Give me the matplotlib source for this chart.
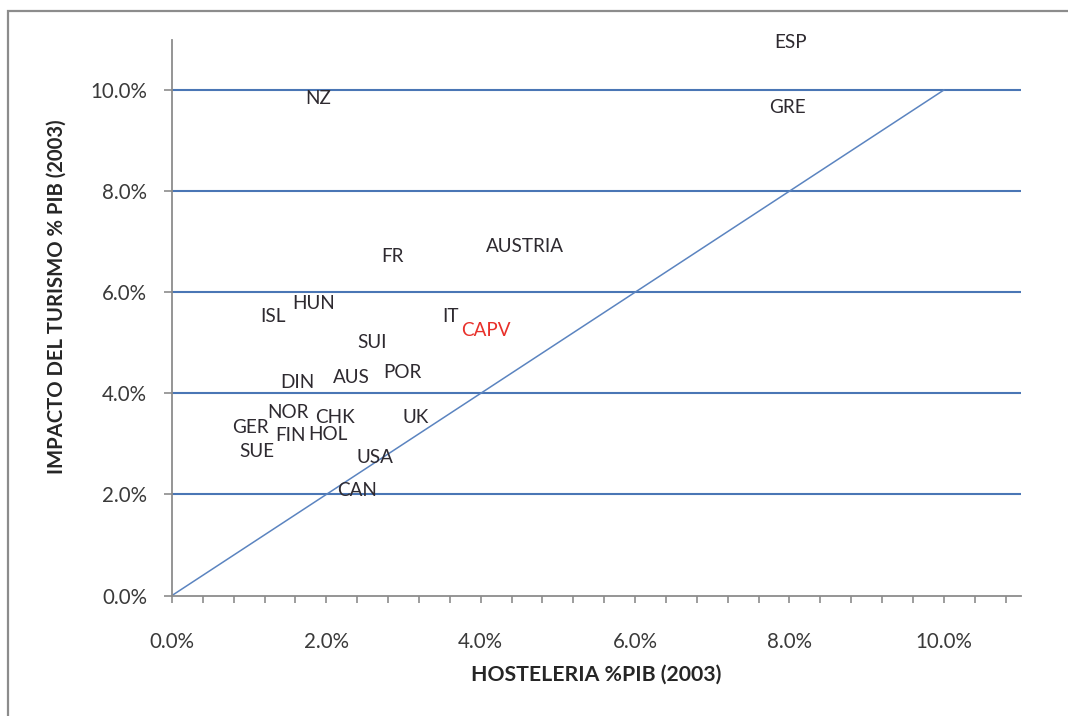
import matplotlib
matplotlib.use("Agg")
import matplotlib.pyplot as plt
from matplotlib.ticker import PercentFormatter, MultipleLocator
from matplotlib.patches import Rectangle

# Country codes and their shares of GDP (2003)
countries = ["ESP", "NZ", "GRE", "FR", "AUSTRIA", "ISL", "HUN", "IT", "CAPV",
             "SUI", "DIN", "AUS", "POR", "NOR", "CHK", "UK", "GER", "FIN",
             "HOL", "SUE", "USA", "CAN"]
hosteleria = [0.0802, 0.0189, 0.0798, 0.0286, 0.0457, 0.0131, 0.0183, 0.0361, 0.0407,
              0.0259, 0.0163, 0.0233, 0.0299, 0.0150, 0.0211, 0.0316, 0.0101, 0.0153,
              0.0202, 0.0110, 0.0263, 0.0240]
turismo = [0.1095, 0.0984, 0.0966, 0.0670, 0.0691, 0.0551, 0.0578, 0.0551, 0.0525,
           0.0501, 0.0422, 0.0432, 0.0442, 0.0363, 0.0353, 0.0353, 0.0333, 0.0316,
           0.0318, 0.0284, 0.0274, 0.0207]
highlight = "CAPV"

# Reference diagonal (hostelería = impacto del turismo)
diag_x = [0.0, 0.10]
diag_y = [0.0, 0.10]

y_ticks = [0.0, 0.02, 0.04, 0.06, 0.08, 0.10]
x_ticks = [0.0, 0.02, 0.04, 0.06, 0.08, 0.10]

plt.rcParams["font.family"] = ["Lato", "DejaVu Sans"]

W, H = 1068, 716
fig = plt.figure(figsize=(W / 100, H / 100), dpi=100)
fig.patch.set_facecolor("white")

# Chart-area border
fig.add_artist(Rectangle((8 / W, -0.1), 1.2, 1 - 11 / H + 0.1, transform=fig.transFigure,
                         fill=False, edgecolor="#8c8c8c", linewidth=1.6, clip_on=False))

left, right = 172 / W, 1021 / W
bottom, top = 1 - 595.5 / H, 1 - 39.5 / H
ax = fig.add_axes([left, bottom, right - left, top - bottom])
ax.set_xlim(0, 0.11)
ax.set_ylim(0, 0.11)

grid_color = "#4a76b5"
for yv in y_ticks[1:]:
    ax.axhline(yv, color=grid_color, linewidth=1.5, zorder=1)

ax.plot(diag_x, diag_y, color="#5b84c0", linewidth=1.1, zorder=2)

text_color = "#2e2a30"
for name, xv, yv in zip(countries, hosteleria, turismo):
    ax.text(xv, yv, name, ha="center", va="center", fontsize=13.6,
            color="#e8302a" if name == highlight else text_color, zorder=3)

for side in ("top", "right"):
    ax.spines[side].set_visible(False)
for side in ("left", "bottom"):
    ax.spines[side].set_color("#8c8c8c")
    ax.spines[side].set_linewidth(1.3)

ax.set_xticks(x_ticks)
ax.set_yticks(y_ticks)
ax.xaxis.set_minor_locator(MultipleLocator(0.004))
ax.xaxis.set_major_formatter(PercentFormatter(xmax=1, decimals=1))
ax.yaxis.set_major_formatter(PercentFormatter(xmax=1, decimals=1))
ax.tick_params(axis="both", which="both", direction="out", color="#8c8c8c",
               labelcolor="#3a3a3a", labelsize=14.8)
ax.tick_params(axis="x", which="major", length=5, width=1.2, pad=21)
ax.tick_params(axis="x", which="minor", length=5, width=1.2)
ax.tick_params(axis="y", which="major", length=6, width=1.2, pad=12)

ax.set_xlabel("HOSTELERIA %PIB (2003)", fontsize=15.3, fontweight="bold",
              color="#262626", va="center")
ax.set_ylabel("IMPACTO DEL TURISMO % PIB (2003)", fontsize=14.6, fontweight="bold",
              color="#262626", va="center")
ax.xaxis.set_label_coords(0.5, (595.5 - 675) / 556)
ax.yaxis.set_label_coords((57 - 172) / 849, 0.5 + (317.5 - 297) / 556)

fig.savefig("out.png", dpi=100, facecolor="white")
